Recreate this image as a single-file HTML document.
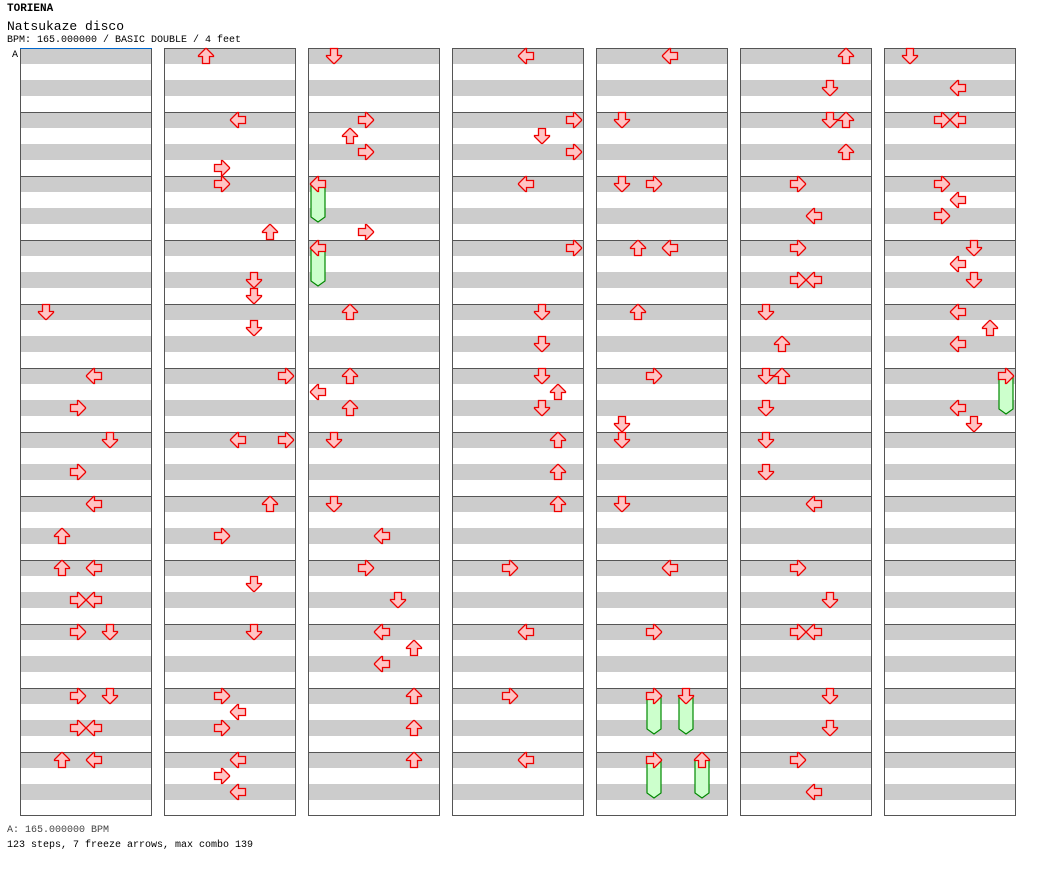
<!DOCTYPE html>
<html><head><meta charset="utf-8">
<style>
body{margin:0;background:#fff;width:1040px;height:876px;overflow:hidden;font-family:"Liberation Mono",monospace;}
.t{position:absolute;left:7px;white-space:nowrap;color:#000}
</style></head><body>
<div class="t" style="top:3px;font-size:11px;font-weight:bold">TORIENA</div>
<div class="t" style="top:19px;font-size:13px">Natsukaze disco</div>
<div class="t" style="top:35px;font-size:10px">BPM: 165.000000 / BASIC DOUBLE / 4 feet</div>
<div class="t" style="top:825px;font-size:10px;color:#444">A: 165.000000 BPM</div>
<div class="t" style="top:840px;font-size:10px">123 steps, 7 freeze arrows, max combo 139</div>
<svg id="chart" width="1040" height="876" style="position:absolute;left:0;top:0" xmlns="http://www.w3.org/2000/svg"></svg>
<script>
// notes: [column, beat within column, lane]  lanes: 0 L,1 D,2 U,3 R,4 L,5 D,6 U,7 R
const notes = [
[0,16,1],[0,20,4],[0,22,3],[0,24,5],[0,26,3],[0,28,4],[0,30,2],[0,32,2],[0,32,4],[0,34,3],[0,34,4],[0,36,3],[0,36,5],[0,40,3],[0,40,5],[0,42,3],[0,42,4],[0,44,2],[0,44,4],
[1,0,2],[1,4,4],[1,7,3],[1,8,3],[1,11,6],[1,14,5],[1,15,5],[1,17,5],[1,20,7],[1,24,4],[1,24,7],[1,28,6],[1,30,3],[1,33,5],[1,36,5],[1,40,3],[1,41,4],[1,42,3],[1,44,4],[1,45,3],[1,46,4],
[2,0,1],[2,4,3],[2,5,2],[2,6,3],[2,11,3],[2,16,2],[2,20,2],[2,21,0],[2,22,2],[2,24,1],[2,28,1],[2,30,4],[2,32,3],[2,34,5],[2,36,4],[2,37,6],[2,38,4],[2,40,6],[2,42,6],[2,44,6],
[3,0,4],[3,4,7],[3,5,5],[3,6,7],[3,8,4],[3,12,7],[3,16,5],[3,18,5],[3,20,5],[3,21,6],[3,22,5],[3,24,6],[3,26,6],[3,28,6],[3,32,3],[3,36,4],[3,40,3],[3,44,4],
[4,0,4],[4,4,1],[4,8,1],[4,8,3],[4,12,2],[4,12,4],[4,16,2],[4,20,3],[4,23,1],[4,24,1],[4,28,1],[4,32,4],[4,36,3],
[5,0,6],[5,2,5],[5,4,5],[5,4,6],[5,6,6],[5,8,3],[5,10,4],[5,12,3],[5,14,3],[5,14,4],[5,16,1],[5,18,2],[5,20,1],[5,20,2],[5,22,1],[5,24,1],[5,26,1],[5,28,4],[5,32,3],[5,34,5],[5,36,3],[5,36,4],[5,40,5],[5,42,5],[5,44,3],[5,46,4],
[6,0,1],[6,2,4],[6,4,3],[6,4,4],[6,8,3],[6,9,4],[6,10,3],[6,12,5],[6,13,4],[6,14,5],[6,16,4],[6,17,6],[6,18,4],[6,22,4],[6,23,5]
];
// freezes: [column, start beat, lane, length in beats]
const freezes = [[2,8,0,2],[2,12,0,2],[4,40,3,2],[4,40,5,2],[4,44,3,2],[4,44,6,2],[6,20,7,2]];
const columns = 7, beatsPerColumn = 48;

const svg = document.getElementById('chart');
const NS = 'http://www.w3.org/2000/svg';
const colX = c => 20 + c*144;
const laneX = (c,l) => colX(c) + 10 + l*16;
const beatY = b => 56 + b*16;
const rot = [0,270,90,180,0,270,90,180]; // left, down, up, right
function mk(t,a){const e=document.createElementNS(NS,t);for(const k in a)e.setAttribute(k,a[k]);svg.appendChild(e);return e;}

for(let c=0;c<columns;c++){
  const x=colX(c);
  for(let b=0;b<beatsPerColumn;b+=2){
    const s=mk('rect',{x:x,y:48+b*16,width:132,height:16,fill:'#ccc'});
    
    
  }
  for(let m=1;m<12;m++){
    const l=mk('line',{x1:x,x2:x+132,y1:48+m*64+0.5,y2:48+m*64+0.5,stroke:'#555','stroke-width':1});
    
    
  }
  const r=mk('rect',{x:x+0.5,y:48.5,width:131,height:767,fill:'none',stroke:'#555','stroke-width':1});
  
  
}
const bl=mk('line',{x1:20,x2:152,y1:48.5,y2:48.5,stroke:'#06c','stroke-width':1});


const at=mk('text',{x:12,y:57,'font-size':10,'font-family':'Liberation Mono, monospace',fill:'#000'});
at.textContent='A';



function arrow(cx,cy,lane){
  const p=mk('polygon',{points:'-7.5,-0.5 -7.5,0.5 -0.5,7.5 0.5,7.5 0.5,3.5 7.5,3.5 7.5,-3.5 0.5,-3.5 0.5,-7.5 -0.5,-7.5',fill:'#ffc4c4',stroke:'#e00','stroke-width':1.3,
    transform:`translate(${cx},${cy}) rotate(${rot[lane]})`});
  
  
}
freezes.forEach(f=>{
  const cx=laneX(f[0],f[2]), y0=beatY(f[1]), y1=beatY(f[1]+f[3])+6;
  const body=mk('polygon',{points:`${cx-7},${y0} ${cx+7},${y0} ${cx+7},${y1-5} ${cx},${y1} ${cx-7},${y1-5}`,fill:'#ccffcc',stroke:'#080','stroke-width':1.2});
  
  
  arrow(cx,y0,f[2]);
});
notes.forEach(n=>arrow(laneX(n[0],n[2]),beatY(n[1]),n[2]));
</script>
</body></html>
